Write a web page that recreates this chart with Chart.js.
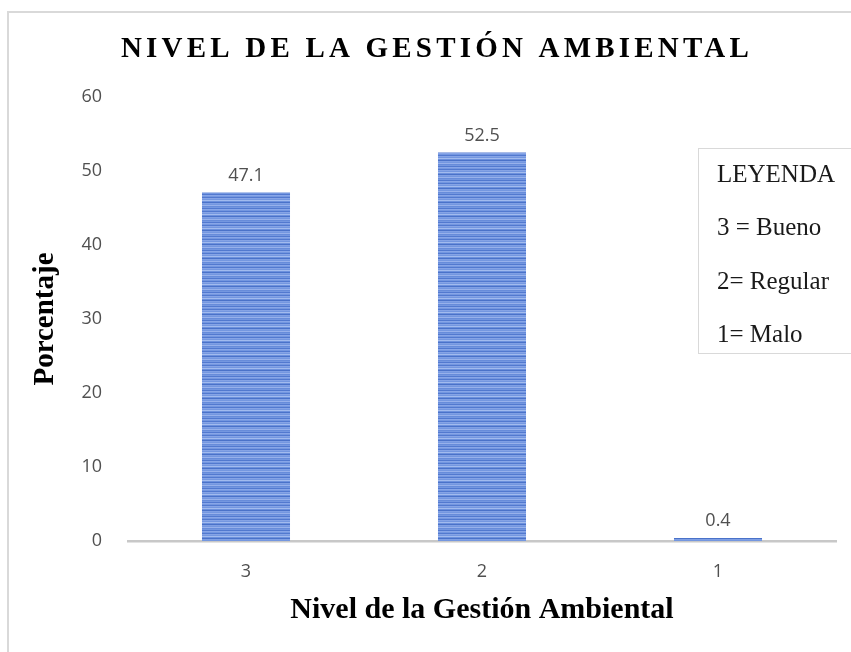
<!DOCTYPE html>
<html>
<head>
<meta charset="utf-8">
<script src="https://cdn.jsdelivr.net/npm/chart.js@4.4.1/dist/chart.umd.min.js"></script>
<style>
  html, body { margin: 0; padding: 0; background: #fff; }
  #wrap { position: relative; width: 851px; height: 652px; overflow: hidden; }
  #frame { position: absolute; left: 7px; top: 11px; width: 900px; height: 700px;
           border-left: 2px solid #d9d9d9; border-top: 2px solid #d9d9d9; }
  canvas { position: absolute; left: 0; top: 0; }
</style>
</head>
<body>
<div id="wrap">
  <div id="frame"></div>
  <canvas id="chart" width="851" height="652"></canvas>
</div>
<script>
// chart data
const categories = ['3', '2', '1'];
const percentages = [47.1, 52.5, 0.4];
const yTicks = [0, 10, 20, 30, 40, 50, 60];
const legendLines = ['LEYENDA', '3 = Bueno', '2= Regular', '1= Malo'];
const chartTitle = 'NIVEL DE LA GESTIÓN AMBIENTAL';

// striped blue fill like the original bars
const makeStripes = () => {
    const c = document.createElement('canvas');
    c.width = 4; c.height = 14;
    const g = c.getContext('2d');
    const rows = ['#7497e0', '#5279cf', '#86a4e6', '#7497e0', '#a2bbee', '#6d91dd', '#4a72c9',
                  '#7f9fe4', '#7497e0', '#97b1eb', '#678cda', '#7497e0', '#5279cf', '#88a6e8'];
    rows.forEach((col, i) => { g.fillStyle = col; g.fillRect(0, i, 4, 1); });
    return c;
};
const ctx = document.getElementById('chart').getContext('2d');
const stripes = ctx.createPattern(makeStripes(), 'repeat');

const serif = '"Liberation Serif", "Times New Roman", serif';
const sans = '"Open Sans", "Liberation Sans", sans-serif';

// title, value labels and legend box
const extras = {
    id: 'extras',
    afterDraw(chart) {
        const c = chart.ctx;
        c.save();
        // title
        c.font = 'bold 29px ' + serif;
        c.fillStyle = '#000';
        c.letterSpacing = '4.2px';
        c.textAlign = 'center';
        c.textBaseline = 'middle';
        c.fillText(chartTitle, 437, 50);
        c.letterSpacing = '0px';

        // value labels above bars
        c.font = '18px ' + sans;
        c.fillStyle = '#505050';
        const meta = chart.getDatasetMeta(0);
        meta.data.forEach((bar, i) => {
            c.fillText(String(percentages[i]), bar.x, bar.y - 17);
        });

        // legend box
        c.strokeStyle = '#d9d9d9';
        c.lineWidth = 1;
        c.fillStyle = '#fff';
        c.fillRect(698.5, 148.5, 170, 205);
        c.strokeRect(698.5, 148.5, 170, 205);
        c.font = '25px ' + serif;
        c.fillStyle = '#1a1a1a';
        c.textAlign = 'left';
        legendLines.forEach((t, i) => c.fillText(t, 717, 175 + i * 53.5));
        c.restore();
    }
};

new Chart(ctx, {
    type: 'bar',
    data: {
        labels: categories,
        datasets: [{
            data: percentages,
            backgroundColor: stripes,
            borderWidth: 0,
            barPercentage: 0.373,
            categoryPercentage: 1
        }]
    },
    options: {
        responsive: false,
        devicePixelRatio: 1,
        animation: false,
        layout: { padding: { top: 97, right: 15, left: 8, bottom: 0 } },
        plugins: { legend: { display: false }, tooltip: { enabled: false } },
        scales: {
            x: {
                grid: { display: false, drawTicks: false },
                border: { display: true, color: '#c8c8c8', width: 2.5 },
                ticks: { color: '#505050', font: { family: sans, size: 18 }, padding: 20 },
                title: {
                    display: true, text: 'Nivel de la Gestión Ambiental', color: '#000',
                    font: { family: serif, size: 30, weight: 'bold' }, padding: { top: 0, bottom: 24 }
                },
                afterFit: (s) => { s.height = 111; }
            },
            y: {
                min: 0, max: 60,
                grid: { display: false, drawTicks: false },
                border: { display: false },
                afterBuildTicks: (s) => { s.ticks = yTicks.map(v => ({ value: v })); },
                ticks: { color: '#505050', font: { family: sans, size: 18 }, padding: 26 },
                title: {
                    display: true, text: 'Porcentaje', color: '#000',
                    font: { family: serif, size: 29, weight: 'bold' }, padding: { top: 20, bottom: 0 }
                },
                afterFit: (s) => { s.width = 120; }
            }
        }
    },
    plugins: [extras]
});
</script>
</body>
</html>
